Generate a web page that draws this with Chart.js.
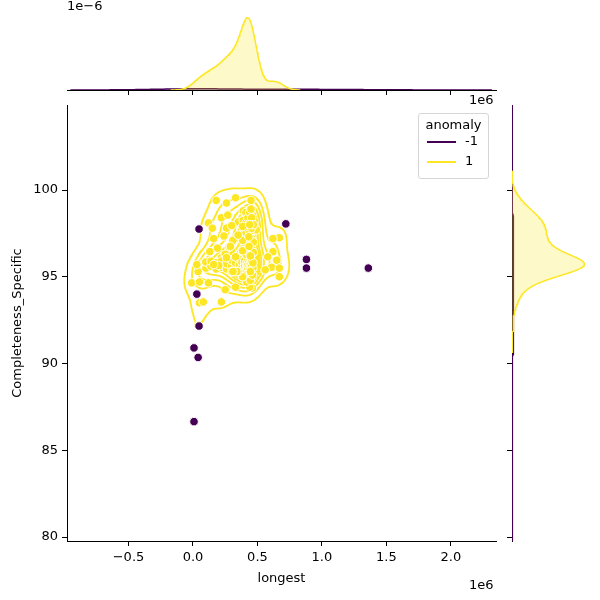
<!DOCTYPE html>
<html>
<head>
<meta charset="utf-8">
<script src="https://cdn.jsdelivr.net/npm/chart.js@4.4.1/dist/chart.umd.min.js"></script>
<style>
  body { margin: 0; background: #fff; font-family: 'DejaVu Sans', sans-serif; }
  #wrap { position: relative; width: 600px; height: 600px; }
  canvas { position: absolute; }
  .txt { position: absolute; font-size: 13px; color: #000; white-space: nowrap; }
  #legend { position: absolute; left: 418px; top: 113px; width: 69px; height: 64px;
            border: 1px solid #d6d6d6; border-radius: 3px; background: rgba(255,255,255,0.8); font-size: 13px; }
  #legend .title { text-align: center; margin-top: 3px; }
  #legend .row { position: relative; height: 20px; }
  #legend .sw { position: absolute; left: 8px; top: 9px; width: 29px; height: 2px; }
  #legend .lab { position: absolute; left: 46px; top: 1px; }
</style>
</head>
<body>
<div id="wrap">
  <canvas id="mainChart" width="600" height="600" style="left:0;top:0"></canvas>
  <canvas id="topChart" width="600" height="100" style="left:0;top:0"></canvas>
  <canvas id="rightChart" width="100" height="600" style="left:500px;top:0"></canvas>
  <div class="txt" style="left:67px;top:-2px">1e&#8722;6</div>
  <div class="txt" style="left:469px;top:92px">1e6</div>
  <div class="txt" style="left:469px;top:577px">1e6</div>
  <div id="legend">
    <div class="title">anomaly</div>
    <div class="row"><div class="sw" style="background:#440154"></div><div class="lab">-1</div></div>
    <div class="row"><div class="sw" style="background:#fde725"></div><div class="lab">1</div></div>
  </div>
</div>
<script>
// anomaly = -1
const longestAnomaly = [47000, 30000, 47000, 8000, 40000, 8000, 720000, 880000, 880000, 1360000];
const completenessAnomaly = [97.75, 94.0, 92.16, 90.9, 90.35, 86.65, 98.05, 96.0, 95.5, 95.5];

// anomaly = 1
const longestNormal = [
  // scattered points
  180000, 260000, 330000, 450000, 390000, 440000, 220000, 270000, 350000, 390000,
  440000, 120000, 150000, 260000, 460000, 490000, 670000, 160000, 340000, 190000,
  130000, 90000, 40000, -10000, 120000, 220000, 300000, 620000, 620000, 580000,
  650000, 610000, 670000, 670000, 560000, 460000, 50000, 80000, 220000, 250000,
  330000, 440000, 30000, 50000, 40000,
  // dense band
  100000, 100000, 140000, 140000, 180000, 180000, 220000, 220000, 260000, 260000,
  300000, 300000, 330000, 330000, 360000, 360000, 360000, 380000, 380000, 400000,
  400000, 400000, 415000, 415000, 425000, 425000, 425000, 435000, 435000, 445000,
  445000, 445000, 455000, 455000, 465000, 465000,
  // dense column
  410000, 410000, 410000, 410000, 410000, 425000, 425000, 425000, 425000,
  440000, 440000, 440000, 440000, 440000, 455000, 455000, 455000, 455000,
  468000, 468000, 468000, 385000, 385000, 385000,
  // lower part of column and middle
  415000, 415000, 445000, 445000, 462000, 385000, 280000, 310000, 250000,
  // filling the core
  300000, 350000, 445000, 260000, 330000, 445000, 290000, 435000, 240000, 433000,
  300000, 440000, 270000, 450000, 350000, 340000, 310000, 200000, 160000
];
const completenessNormal = [
  99.4, 99.25, 99.55, 99.4, 98.8, 98.85, 98.4, 98.6, 98.15, 98.25,
  98.4, 98.1, 97.8, 97.8, 97.8, 97.7, 97.25, 97.2, 97.2, 96.65,
  96.45, 95.85, 95.3, 94.65, 94.65, 96.1, 96.45, 97.2, 96.45, 96.15,
  95.95, 95.55, 95.5, 95.0, 95.4, 94.35, 93.5, 93.55, 93.55, 94.25,
  94.4, 94.4, 95.7, 94.7, 92.2,
  95.5, 95.85, 95.6, 95.9, 95.45, 95.8, 95.55, 95.9, 95.45, 95.75,
  95.6, 95.95, 95.5, 95.8, 95.45, 95.7, 96.0, 95.55, 95.85, 95.45,
  95.65, 95.9, 95.55, 95.8, 95.5, 95.7, 96.0, 95.6, 95.85, 95.5,
  95.75, 96.0, 95.6, 95.9, 95.5, 95.8,
  96.3, 96.9, 97.5, 98.1, 98.7, 96.6, 97.2, 97.8, 98.4,
  96.3, 96.9, 97.5, 98.1, 98.7, 96.6, 97.2, 97.8, 98.4,
  96.4, 97.0, 98.0, 96.5, 97.1, 97.9,
  94.7, 95.1, 94.8, 95.2, 95.1, 95.0, 96.7, 97.1, 96.3,
  95.3, 95.3, 95.3, 96.1, 96.15, 96.2, 96.75, 96.75, 97.35, 97.3,
  97.95, 98.0, 98.55, 98.9, 97.4, 95.3, 95.3, 95.65, 95.7
];

const xTicks = [-500000, 0, 500000, 1000000, 1500000, 2000000];
const yTicks = [80, 85, 90, 95, 100];
const xRange = [-977000, 2350000];
const yRange = [79.77, 104.9];

const PURPLE = '#440154';
const YELLOW = '#fde725';
const N_TOTAL = longestAnomaly.length + longestNormal.length;

Chart.defaults.font.family = "'DejaVu Sans', sans-serif";
Chart.defaults.font.size = 13;
Chart.defaults.color = '#000';

// ---- kde helpers (scott bandwidth, cut=3, like seaborn) ----
function mean(a) { return a.reduce((s, v) => s + v, 0) / a.length; }

function kde1d(values, weight, gridsize) {
  const n = values.length;
  const m = mean(values);
  const variance = values.reduce((s, v) => s + (v - m) ** 2, 0) / (n - 1);
  const bw = Math.sqrt(variance) * Math.pow(n, -1 / 5);
  const lo = Math.min(...values) - 3 * bw;
  const hi = Math.max(...values) + 3 * bw;
  const out = [];
  for (let i = 0; i < gridsize; i++) {
    const g = lo + (hi - lo) * i / (gridsize - 1);
    let s = 0;
    for (const v of values) s += Math.exp(-0.5 * ((g - v) / bw) ** 2);
    out.push({ pos: g, dens: weight * s / (n * bw * Math.sqrt(2 * Math.PI)) });
  }
  return out;
}

function kde2d(xs, ys, weight, gridsize) {
  const n = xs.length;
  const mx = mean(xs), my = mean(ys);
  let cxx = 0, cyy = 0, cxy = 0;
  for (let k = 0; k < n; k++) {
    cxx += (xs[k] - mx) ** 2;
    cyy += (ys[k] - my) ** 2;
    cxy += (xs[k] - mx) * (ys[k] - my);
  }
  const f2 = Math.pow(n, -2 / 6);
  const sxx = cxx / (n - 1) * f2, syy = cyy / (n - 1) * f2, sxy = cxy / (n - 1) * f2;
  const det = sxx * syy - sxy * sxy;
  const ixx = syy / det, iyy = sxx / det, ixy = -sxy / det;
  const bx = Math.sqrt(sxx), by = Math.sqrt(syy);
  const x0 = Math.min(...xs) - 3 * bx, x1 = Math.max(...xs) + 3 * bx;
  const y0 = Math.min(...ys) - 3 * by, y1 = Math.max(...ys) + 3 * by;
  const gx = [], gy = [];
  for (let i = 0; i < gridsize; i++) {
    gx.push(x0 + (x1 - x0) * i / (gridsize - 1));
    gy.push(y0 + (y1 - y0) * i / (gridsize - 1));
  }
  const norm = weight / (n * 2 * Math.PI * Math.sqrt(det));
  const z = [];
  for (let i = 0; i < gridsize; i++) {
    const col = [];
    for (let j = 0; j < gridsize; j++) {
      let s = 0;
      for (let k = 0; k < n; k++) {
        const dx = gx[i] - xs[k], dy = gy[j] - ys[k];
        s += Math.exp(-0.5 * (dx * dx * ixx + 2 * dx * dy * ixy + dy * dy * iyy));
      }
      col.push(s * norm);
    }
    z.push(col);
  }
  return { gx, gy, z };
}

// iso-proportion levels, same as seaborn's _quantile_to_level
function isoLevels(values, props) {
  const sorted = values.slice().sort((a, b) => b - a);
  const total = sorted.reduce((s, v) => s + v, 0);
  const cum = [];
  let acc = 0;
  for (const v of sorted) { acc += v; cum.push(acc / total); }
  return props.map(p => {
    const target = 1 - p;
    let idx = cum.findIndex(c => c >= target);
    if (idx < 0) idx = sorted.length - 1;
    return sorted[idx];
  });
}

function contourPoints(grid, levels) {
  const { gx, gy, z } = grid;
  const out = [];
  const gap = { x: null, y: null };
  for (const level of levels) {
    for (let i = 0; i < gx.length - 1; i++) {
      for (let j = 0; j < gy.length - 1; j++) {
        const c = [
          [gx[i], gy[j], z[i][j]],
          [gx[i + 1], gy[j], z[i + 1][j]],
          [gx[i + 1], gy[j + 1], z[i + 1][j + 1]],
          [gx[i], gy[j + 1], z[i][j + 1]]
        ];
        const pts = [];
        for (let e = 0; e < 4; e++) {
          const a = c[e], b = c[(e + 1) % 4];
          if ((a[2] >= level) !== (b[2] >= level)) {
            const t = (level - a[2]) / (b[2] - a[2]);
            pts.push({ x: a[0] + t * (b[0] - a[0]), y: a[1] + t * (b[1] - a[1]) });
          }
        }
        if (pts.length === 2) out.push(pts[0], pts[1], gap);
        else if (pts.length === 4) out.push(pts[0], pts[1], gap, pts[2], pts[3], gap);
      }
    }
  }
  return out;
}

// ---- compute densities ----
const GRID2D = 150;
const gridNormal = kde2d(longestNormal, completenessNormal, longestNormal.length / N_TOTAL, GRID2D);
const gridAnomaly = kde2d(longestAnomaly, completenessAnomaly, longestAnomaly.length / N_TOTAL, GRID2D);
const allDens = [].concat(...gridNormal.z, ...gridAnomaly.z);
const props = [];
for (let i = 0; i < 10; i++) props.push(0.05 + 0.95 * i / 9);
const levels = isoLevels(allDens, props);
const contourNormal = contourPoints(gridNormal, levels);
const contourAnomaly = contourPoints(gridAnomaly, levels);

const margXNormal = kde1d(longestNormal, longestNormal.length / N_TOTAL, 200);
const margXAnomaly = kde1d(longestAnomaly, longestAnomaly.length / N_TOTAL, 200);
const margYNormal = kde1d(completenessNormal, completenessNormal.length / N_TOTAL, 200);
const margYAnomaly = kde1d(completenessAnomaly, completenessAnomaly.length / N_TOTAL, 200);
const topMax = 1.05 * Math.max(...margXNormal.map(d => d.dens), ...margXAnomaly.map(d => d.dens));
const rightMax = 1.05 * Math.max(...margYNormal.map(d => d.dens), ...margYAnomaly.map(d => d.dens));

const axisGrid = { drawOnChartArea: false, drawTicks: true, tickLength: 5, color: '#000', tickWidth: 1 };
const axisBorder = { display: true, color: '#000', width: 1 };

function fmtX(v) { return (v / 1e6).toFixed(1).replace('-', '\u2212'); }

// ---- main joint plot ----
new Chart(document.getElementById('mainChart'), {
  type: 'scatter',
  data: {
    datasets: [
      {
        type: 'line', label: 'kde 1', data: contourNormal, order: 3,
        borderColor: YELLOW, borderWidth: 1.8, pointRadius: 0, spanGaps: false,
        borderCapStyle: 'round', borderJoinStyle: 'round', fill: false, tension: 0
      },
      {
        type: 'line', label: 'kde -1', data: contourAnomaly, order: 2,
        borderColor: PURPLE, borderWidth: 1.8, pointRadius: 0, spanGaps: false,
        borderCapStyle: 'round', borderJoinStyle: 'round', fill: false, tension: 0
      },
      {
        label: '1', order: 1,
        data: longestNormal.map((x, i) => ({ x, y: completenessNormal[i] })),
        backgroundColor: YELLOW, borderColor: '#fff', borderWidth: 1, pointRadius: 4.3
      },
      {
        label: '-1', order: 0,
        data: longestAnomaly.map((x, i) => ({ x, y: completenessAnomaly[i] })),
        backgroundColor: PURPLE, borderColor: '#fff', borderWidth: 1, pointRadius: 4.3
      }
    ]
  },
  options: {
    responsive: false,
    animation: false,
    events: [],
    layout: { padding: { left: 0, top: 105, right: 104, bottom: 0 } },
    plugins: { legend: { display: false }, tooltip: { enabled: false } },
    scales: {
      x: {
        type: 'linear', min: xRange[0], max: xRange[1],
        grid: axisGrid, border: axisBorder,
        ticks: { padding: 4, maxRotation: 0, callback: fmtX },
        afterBuildTicks: s => { s.ticks = xTicks.map(v => ({ value: v })); },
        afterFit: s => { s.height = 59; },
        title: { display: true, text: 'longest', padding: { top: 14, bottom: 14 } }
      },
      y: {
        type: 'linear', min: yRange[0], max: yRange[1],
        grid: axisGrid, border: axisBorder,
        ticks: { padding: 4, callback: v => String(v) },
        afterBuildTicks: s => { s.ticks = yTicks.map(v => ({ value: v })); },
        afterFit: s => { s.width = 67; },
        title: { display: true, text: 'Completeness_Specific', padding: { top: 10, bottom: 10 } }
      }
    }
  }
});

// ---- top marginal ----
new Chart(document.getElementById('topChart'), {
  type: 'line',
  data: {
    datasets: [
      {
        data: margXNormal.map(d => ({ x: d.pos, y: d.dens })),
        borderColor: YELLOW, backgroundColor: 'rgba(253,231,37,0.25)', fill: 'origin',
        borderWidth: 1.5, pointRadius: 0, tension: 0
      },
      {
        data: margXAnomaly.map(d => ({ x: d.pos, y: d.dens })),
        borderColor: PURPLE, backgroundColor: 'rgba(68,1,84,0.25)', fill: 'origin',
        borderWidth: 1.5, pointRadius: 0, tension: 0
      }
    ]
  },
  options: {
    responsive: false,
    animation: false,
    events: [],
    layout: { padding: { left: 67, top: 14, right: 104, bottom: 0 } },
    plugins: { legend: { display: false }, tooltip: { enabled: false } },
    scales: {
      x: {
        type: 'linear', min: xRange[0], max: xRange[1],
        grid: axisGrid, border: axisBorder,
        ticks: { display: false },
        afterBuildTicks: s => { s.ticks = xTicks.map(v => ({ value: v })); },
        afterFit: s => { s.height = 10; }
      },
      y: { type: 'linear', display: false, min: 0, max: topMax }
    }
  }
});

// ---- right marginal ----
new Chart(document.getElementById('rightChart'), {
  type: 'line',
  data: {
    datasets: [
      {
        data: margYNormal.map(d => ({ x: d.dens, y: d.pos })),
        borderColor: YELLOW, backgroundColor: 'rgba(253,231,37,0.25)', fill: 'origin',
        borderWidth: 1.5, pointRadius: 0, tension: 0
      },
      {
        data: margYAnomaly.map(d => ({ x: d.dens, y: d.pos })),
        borderColor: PURPLE, backgroundColor: 'rgba(68,1,84,0.25)', fill: 'origin',
        borderWidth: 1.5, pointRadius: 0, tension: 0
      }
    ]
  },
  options: {
    indexAxis: 'y',
    responsive: false,
    animation: false,
    events: [],
    layout: { padding: { left: 0, top: 105, right: 12, bottom: 59 } },
    plugins: { legend: { display: false }, tooltip: { enabled: false } },
    scales: {
      y: {
        type: 'linear', min: yRange[0], max: yRange[1],
        grid: axisGrid, border: axisBorder,
        ticks: { display: false },
        afterBuildTicks: s => { s.ticks = yTicks.map(v => ({ value: v })); },
        afterFit: s => { s.width = 12; }
      },
      x: { type: 'linear', display: false, min: 0, max: rightMax }
    }
  }
});
</script>
</body>
</html>
